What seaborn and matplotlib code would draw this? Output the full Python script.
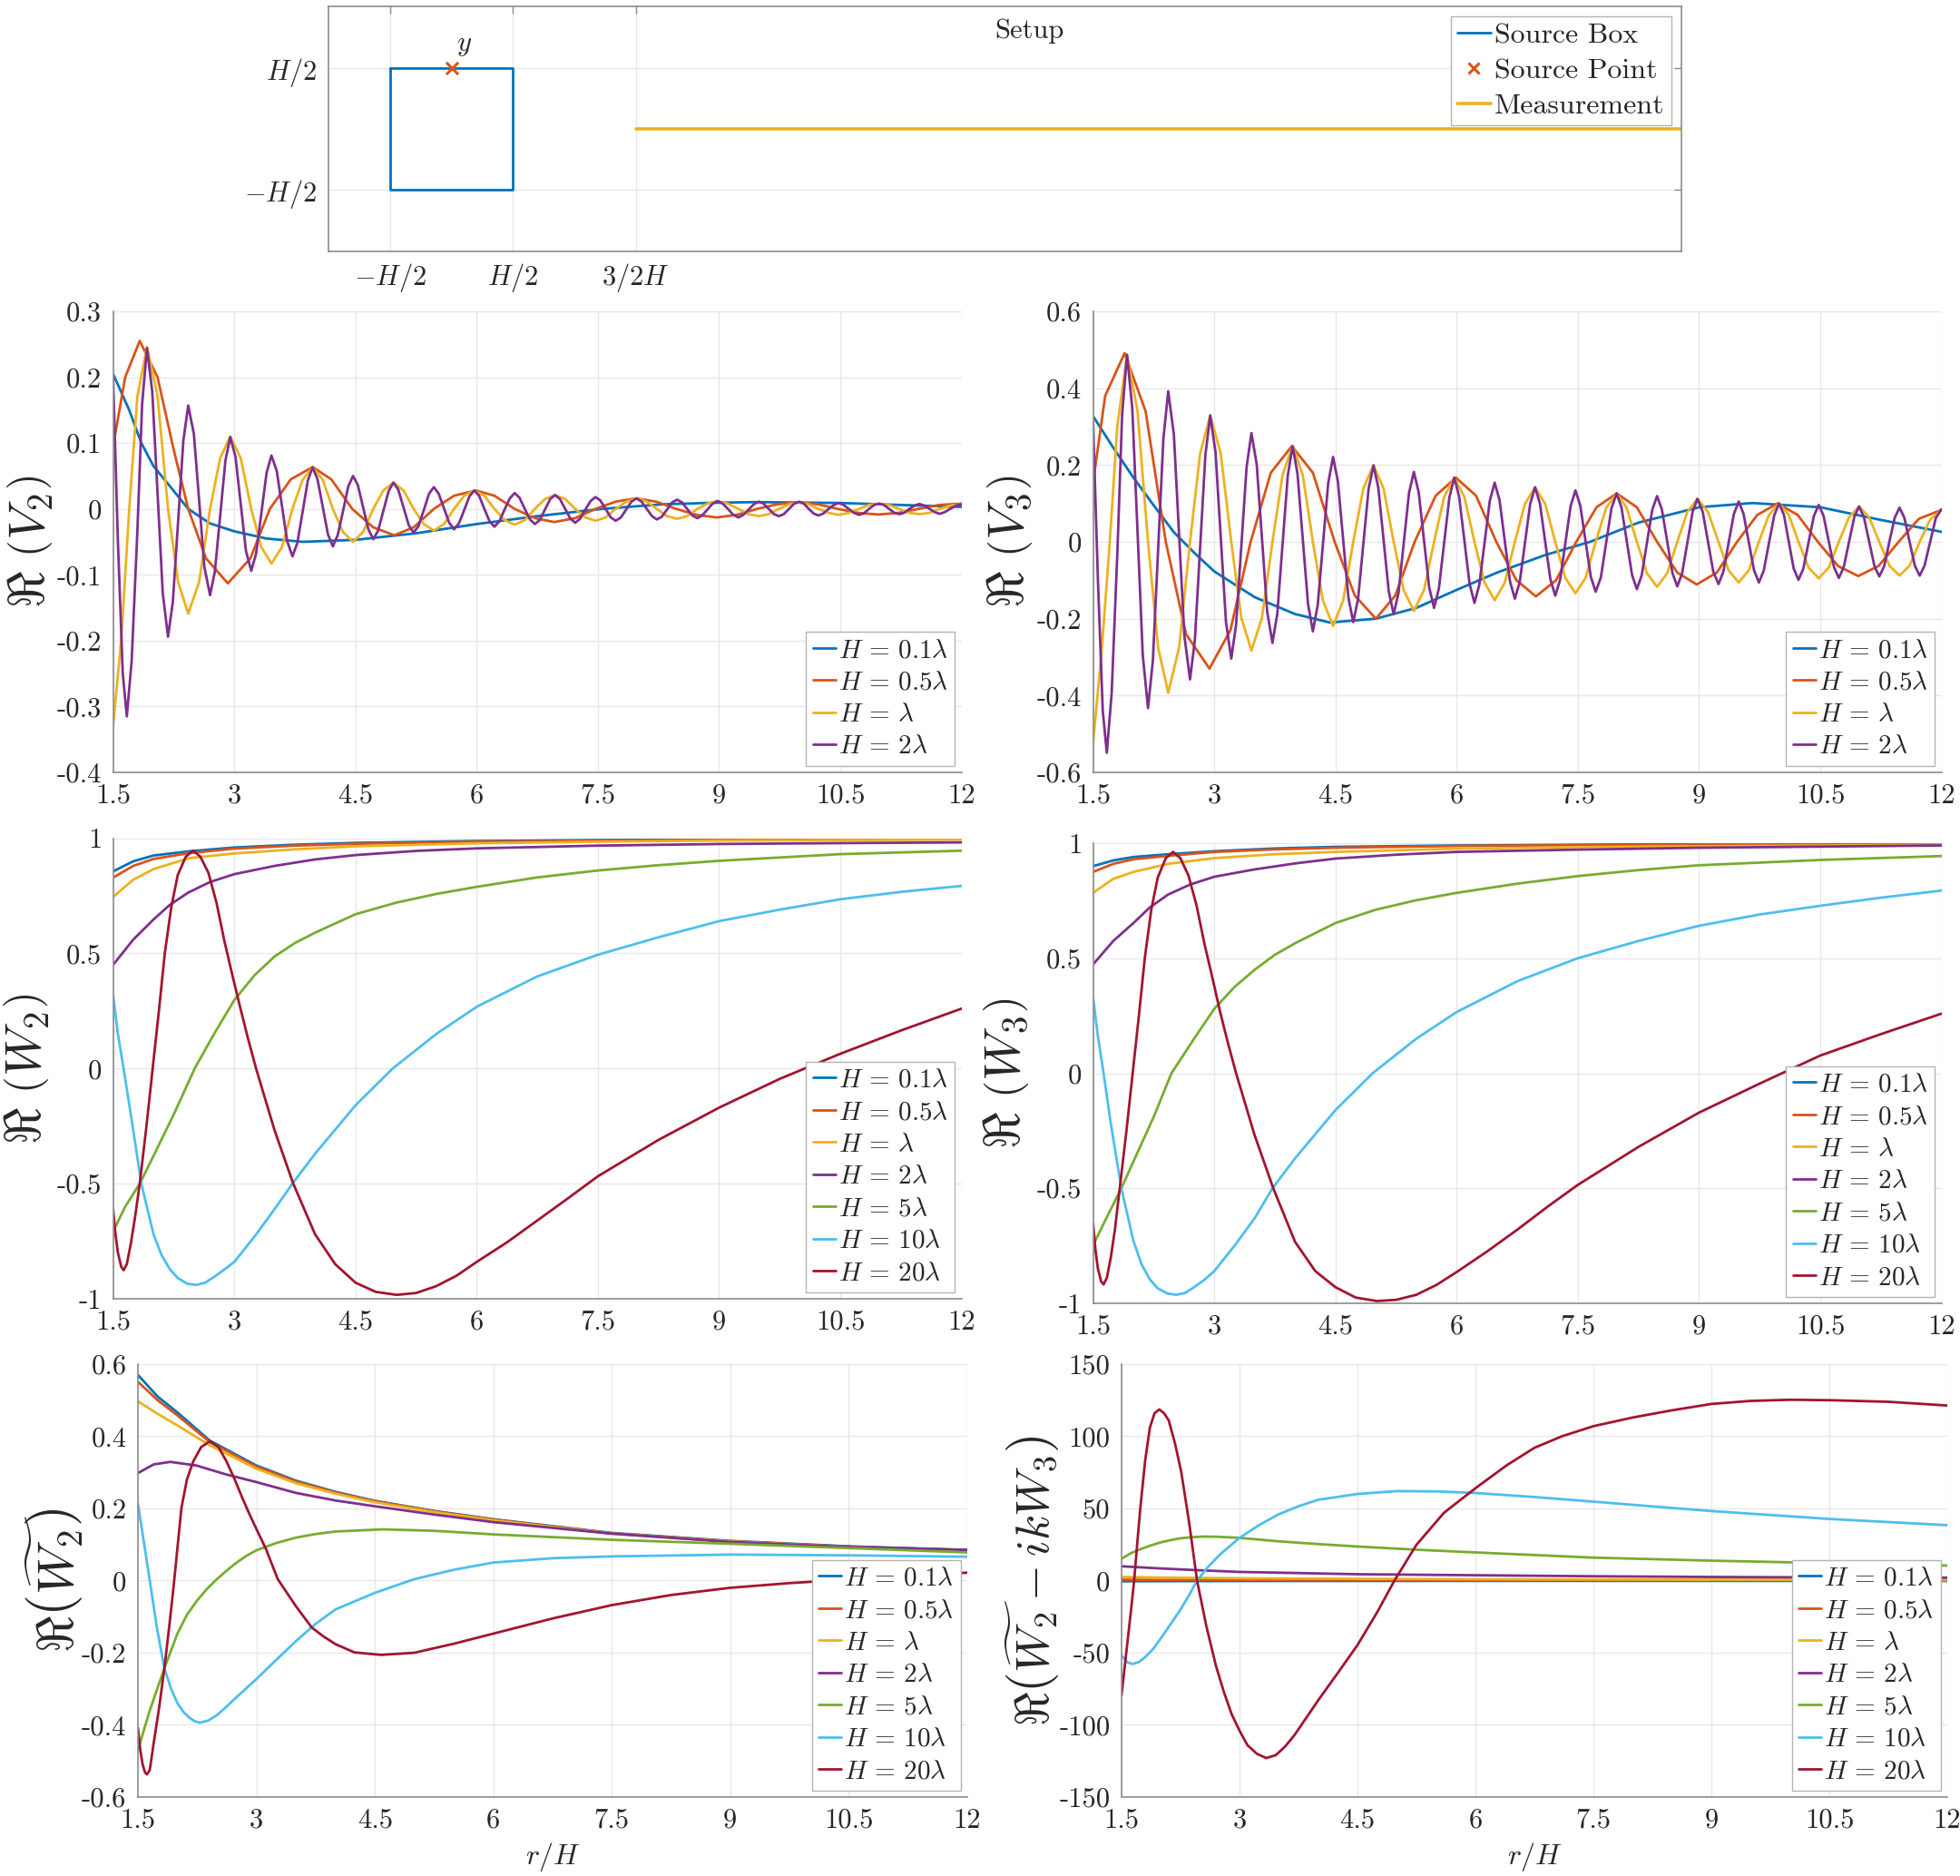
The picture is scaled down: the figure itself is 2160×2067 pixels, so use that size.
import matplotlib
matplotlib.use("Agg")
import matplotlib.pyplot as plt
from matplotlib.lines import Line2D
import seaborn as sns

# ---- colours / labels ----
COLORS = ["#0072BD", "#D95319", "#EDB120", "#7E2F8E", "#77AC30", "#4DBEEE", "#A2142F"]
H_LABELS = [r"$H\,=\,0.1\lambda$", r"$H\,=\,0.5\lambda$", r"$H\,=\,\lambda$", r"$H\,=\,2\lambda$",
            r"$H\,=\,5\lambda$", r"$H\,=\,10\lambda$", r"$H\,=\,20\lambda$"]
X_TICKS = [1.5, 3, 4.5, 6, 7.5, 9, 10.5, 12]
X_TICK_LABELS = ["1.5", "3", "4.5", "6", "7.5", "9", "10.5", "12"]

# ---- setup sketch (units of H) ----
BOX_X = [-0.5, 0.5, 0.5, -0.5, -0.5]
BOX_Y = [0.5, 0.5, -0.5, -0.5, 0.5]
SRC_X = [0.0]
SRC_Y = [0.5]
MEAS_X = [1.5, 10.0]
MEAS_Y = [0.0, 0.0]

# ---- Re(V2) ----
V2_R_01 = [1.5, 1.7, 1.85, 2.0, 2.2, 2.43, 2.7, 3.0, 3.4, 3.85, 4.5, 5.25, 6.0, 6.75, 7.55, 8.3, 9.0, 9.45, 10.5, 11.25, 12.0]
V2_01 = [0.205, 0.15, 0.1, 0.065, 0.035, 0.0, -0.022, -0.034, -0.045, -0.05, -0.047, -0.037, -0.023, -0.011, 0.0, 0.007, 0.0095, 0.0103, 0.009, 0.006, 0.003]
V2_R_05 = [1.5, 1.65, 1.83, 2.05, 2.25, 2.43, 2.65, 2.92, 3.2, 3.44, 3.7, 3.97, 4.2, 4.46, 4.72, 4.98, 5.22, 5.47, 5.72, 5.99, 6.22, 6.47,
           6.72, 6.96, 7.22, 7.47, 7.72, 7.97, 8.22, 8.47, 8.72, 8.97, 9.22, 9.47, 9.72, 9.97, 10.22, 10.47, 10.72, 10.97, 11.22, 11.47, 11.72, 12.0]
V2_05 = [0.095, 0.2, 0.255, 0.2, 0.09, 0.0, -0.075, -0.113, -0.075, 0.0, 0.045, 0.0635, 0.045, 0.0, -0.028, -0.04, -0.028, 0.0, 0.02, 0.028, 0.02, 0.0,
         -0.014, -0.02, -0.014, 0.0, 0.011, 0.016, 0.011, 0.0, -0.009, -0.013, -0.009, 0.0, 0.007, 0.01, 0.007, 0.0, -0.006, -0.0085, -0.006, 0.0, 0.006, 0.008]
V_R_1 = [1.5, 1.6, 1.7, 1.8,
         1.92, 2.05, 2.18, 2.305,
         2.43, 2.565, 2.70, 2.825,
         2.95, 3.08, 3.21, 3.335,
         3.46, 3.59, 3.72, 3.845,
         3.97, 4.095, 4.22, 4.345,
         4.47, 4.595, 4.72, 4.845,
         4.97, 5.095, 5.22, 5.345,
         5.47, 5.595, 5.72, 5.845,
         5.97, 6.095, 6.22, 6.345,
         6.47, 6.595, 6.72, 6.845,
         6.97, 7.095, 7.22, 7.345,
         7.47, 7.595, 7.72, 7.85,
         7.98, 8.105, 8.23, 8.355,
         8.48, 8.605, 8.73, 8.855,
         8.98, 9.11, 9.24, 9.365,
         9.49, 9.615, 9.74, 9.865,
         9.99, 10.11, 10.23, 10.355,
         10.48, 10.605, 10.73, 10.855,
         10.98, 11.105, 11.23, 11.355,
         11.48, 11.605, 11.73, 11.86,
         12.0]
V2_1 = [-0.33, -0.2, 0.0, 0.17,
        0.246, 0.172, 0.0, -0.111,
        -0.159, -0.111, 0.0, 0.077,
        0.11, 0.077, 0.0, -0.058,
        -0.083, -0.058, 0.0, 0.044,
        0.063, 0.044, 0.0, -0.035,
        -0.05, -0.035, 0.0, 0.028,
        0.04, 0.028, 0.0, -0.023,
        -0.033, -0.023, 0.0, 0.02,
        0.028, 0.02, 0.0, -0.017,
        -0.024, -0.017, 0.0, 0.015,
        0.021, 0.015, 0.0, -0.013,
        -0.018, -0.013, 0.0, 0.011,
        0.016, 0.011, 0.0, -0.011,
        -0.015, -0.011, 0.0, 0.008,
        0.012, 0.008, 0.0, -0.008,
        -0.011, -0.008, 0.0, 0.007,
        0.01, 0.007, 0.0, -0.006,
        -0.009, -0.006, 0.0, 0.006,
        0.008, 0.006, 0.0, -0.006,
        -0.008, -0.006, 0.0, 0.005,
        0.007]
V_R_2 = [1.5, 1.56, 1.62,
         1.67, 1.73, 1.80, 1.86,
         1.92, 1.985, 2.05, 2.115,
         2.18, 2.24, 2.305, 2.37,
         2.43, 2.50, 2.565, 2.63,
         2.70, 2.76, 2.825, 2.89,
         2.95, 3.015, 3.08, 3.145,
         3.21, 3.27, 3.335, 3.40,
         3.46, 3.525, 3.59, 3.655,
         3.72, 3.78, 3.845, 3.91,
         3.97, 4.03, 4.095, 4.16,
         4.22, 4.28, 4.345, 4.41,
         4.47, 4.53, 4.595, 4.66,
         4.72, 4.78, 4.845, 4.91,
         4.97, 5.03, 5.095, 5.16,
         5.22, 5.28, 5.345, 5.41,
         5.47, 5.53, 5.595, 5.66,
         5.72, 5.78, 5.845, 5.91,
         5.97, 6.03, 6.095, 6.16,
         6.22, 6.28, 6.345, 6.41,
         6.47, 6.53, 6.595, 6.66,
         6.72, 6.78, 6.845, 6.91,
         6.97, 7.03, 7.095, 7.16,
         7.22, 7.28, 7.345, 7.41,
         7.47, 7.53, 7.595, 7.66,
         7.72, 7.785, 7.85, 7.915,
         7.98, 8.04, 8.105, 8.17,
         8.23, 8.29, 8.355, 8.42,
         8.48, 8.54, 8.605, 8.67,
         8.73, 8.79, 8.855, 8.92,
         8.98, 9.045, 9.11, 9.175,
         9.24, 9.30, 9.365, 9.43,
         9.49, 9.55, 9.615, 9.68,
         9.74, 9.80, 9.865, 9.93,
         9.99, 10.05, 10.11, 10.17,
         10.23, 10.29, 10.355, 10.42,
         10.48, 10.54, 10.605, 10.67,
         10.73, 10.79, 10.855, 10.92,
         10.98, 11.04, 11.105, 11.17,
         11.23, 11.29, 11.355, 11.42,
         11.48, 11.54, 11.605, 11.67,
         11.73, 11.79, 11.86, 11.93,
         12.0]
V2_2 = [0.2, -0.05, -0.25,
        -0.315, -0.231, -0.036, 0.160,
        0.244, 0.178, 0.025, -0.128,
        -0.194, -0.141, -0.019, 0.104,
        0.157, 0.114, 0.013, -0.088,
        -0.131, -0.095, -0.011, 0.073,
        0.109, 0.079, 0.008, -0.064,
        -0.094, -0.068, -0.007, 0.055,
        0.081, 0.058, 0.005, -0.049,
        -0.072, -0.052, -0.005, 0.043,
        0.063, 0.045, 0.003, -0.039,
        -0.057, -0.040, -0.004, 0.034,
        0.05, 0.036, 0.002, -0.031,
        -0.046, -0.033, -0.003, 0.027,
        0.04, 0.029, 0.002, -0.025,
        -0.036, -0.026, -0.002, 0.023,
        0.033, 0.023, 0.001, -0.021,
        -0.031, -0.022, -0.002, 0.019,
        0.028, 0.020, 0.0, -0.019,
        -0.027, -0.019, -0.001, 0.016,
        0.024, 0.017, 0.0, -0.016,
        -0.023, -0.017, -0.001, 0.015,
        0.021, 0.015, 0.0, -0.015,
        -0.021, -0.015, -0.001, 0.012,
        0.018, 0.013, 0.0, -0.013,
        -0.018, -0.013, -0.001, 0.011,
        0.016, 0.011, 0.0, -0.011,
        -0.016, -0.012, -0.001, 0.010,
        0.014, 0.010, 0.0, -0.010,
        -0.014, -0.010, -0.001, 0.008,
        0.012, 0.008, 0.0, -0.009,
        -0.013, -0.009, -0.001, 0.007,
        0.011, 0.008, 0.0, -0.008,
        -0.011, -0.008, 0.0, 0.008,
        0.011, 0.008, 0.0, -0.007,
        -0.01, -0.007, 0.0, 0.006,
        0.009, 0.006, 0.0, -0.006,
        -0.009, -0.007, 0.0, 0.006,
        0.008, 0.006, 0.0, -0.006,
        -0.008, -0.006, 0.0, 0.005,
        0.0075, 0.005, 0.0, -0.005,
        -0.0075, -0.005, 0.0, 0.005,
        0.007]

# ---- Re(V3) ----
V3_R_01 = [1.5, 1.75, 2.0, 2.25, 2.5, 2.75, 3.0, 3.5, 4.0, 4.43, 5.0, 5.5, 6.0, 6.5, 7.1, 7.65, 8.25, 9.0, 9.66, 10.5, 11.25, 12.0]
V3_01 = [0.327, 0.245, 0.167, 0.095, 0.025, -0.028, -0.077, -0.144, -0.188, -0.21, -0.2, -0.172, -0.125, -0.08, -0.034, 0.0, 0.05, 0.09, 0.101, 0.09, 0.057, 0.026]
V3_R_05 = [1.5, 1.65, 1.89, 2.15, 2.4, 2.65, 2.94, 3.2, 3.45, 3.7, 3.96, 4.22, 4.49, 4.74, 5.0, 5.24, 5.48, 5.74, 5.99, 6.24, 6.49, 6.74,
           6.98, 7.23, 7.48, 7.73, 7.98, 8.23, 8.48, 8.73, 8.97, 9.22, 9.47, 9.72, 9.97, 10.22, 10.47, 10.72, 10.97, 11.22, 11.47, 11.72, 12.0]
V3_05 = [0.155, 0.38, 0.491, 0.34, 0.0, -0.24, -0.33, -0.23, 0.0, 0.18, 0.249, 0.18, 0.0, -0.14, -0.2, -0.14, 0.0, 0.12, 0.167, 0.12, 0.0, -0.1,
         -0.142, -0.1, 0.0, 0.09, 0.126, 0.09, 0.0, -0.08, -0.111, -0.08, 0.0, 0.07, 0.1, 0.07, 0.0, -0.063, -0.089, -0.063, 0.0, 0.06, 0.083]
V3_1 = [-0.523, -0.3, -0.02, 0.3,
        0.487, 0.341, 0.0, -0.275,
        -0.393, -0.275, 0.0, 0.23,
        0.329, 0.23, 0.0, -0.198,
        -0.283, -0.198, 0.0, 0.174,
        0.249, 0.174, 0.0, -0.153,
        -0.219, -0.153, 0.0, 0.139,
        0.199, 0.139, 0.0, -0.126,
        -0.18, -0.126, 0.0, 0.117,
        0.167, 0.117, 0.0, -0.106,
        -0.152, -0.106, 0.0, 0.099,
        0.142, 0.099, 0.0, -0.094,
        -0.134, -0.094, 0.0, 0.088,
        0.126, 0.088, 0.0, -0.082,
        -0.117, -0.082, 0.0, 0.078,
        0.112, 0.078, 0.0, -0.074,
        -0.106, -0.074, 0.0, 0.07,
        0.1, 0.07, 0.0, -0.067,
        -0.095, -0.067, 0.0, 0.064,
        0.092, 0.064, 0.0, -0.062,
        -0.088, -0.062, 0.0, 0.058,
        0.083]
V3_2 = [0.313, -0.1, -0.44,
        -0.549, -0.394, -0.031, 0.332,
        0.487, 0.349, 0.027, -0.295,
        -0.433, -0.309, -0.02, 0.268,
        0.392, 0.279, 0.017, -0.245,
        -0.358, -0.255, -0.015, 0.226,
        0.329, 0.234, 0.012, -0.209,
        -0.304, -0.216, -0.01, 0.195,
        0.283, 0.202, 0.01, -0.182,
        -0.263, -0.187, -0.007, 0.173,
        0.249, 0.177, 0.008, -0.161,
        -0.233, -0.165, -0.006, 0.153,
        0.221, 0.157, 0.006, -0.145,
        -0.209, -0.148, -0.005, 0.138,
        0.199, 0.141, 0.005, -0.130,
        -0.188, -0.133, -0.003, 0.127,
        0.182, 0.129, 0.005, -0.119,
        -0.172, -0.121, -0.003, 0.116,
        0.167, 0.118, 0.004, -0.110,
        -0.159, -0.112, -0.003, 0.107,
        0.154, 0.109, 0.003, -0.103,
        -0.148, -0.105, -0.003, 0.099,
        0.142, 0.100, 0.001, -0.098,
        -0.14, -0.099, -0.003, 0.093,
        0.134, 0.094, 0.002, -0.091,
        -0.13, -0.092, -0.002, 0.087,
        0.126, 0.089, 0.002, -0.086,
        -0.123, -0.087, -0.002, 0.083,
        0.119, 0.084, 0.002, -0.081,
        -0.116, -0.082, -0.002, 0.078,
        0.112, 0.078, 0.001, -0.077,
        -0.11, -0.078, -0.003, 0.072,
        0.105, 0.073, 0.0, -0.074,
        -0.106, -0.075, -0.003, 0.069,
        0.1, 0.070, 0.0, -0.069,
        -0.099, -0.070, -0.002, 0.067,
        0.096, 0.068, 0.001, -0.066,
        -0.094, -0.066, -0.001, 0.064,
        0.092, 0.064, 0.001, -0.063,
        -0.09, -0.064, 0.0, 0.062,
        0.089, 0.063, 0.0, -0.062,
        -0.088, -0.062, 0.0, 0.062,
        0.085]

# ---- Re(W2), Re(W3) ----
W_R_SMALL = [1.5, 1.75, 2.0, 2.43, 3.0, 3.75, 4.5, 6.0, 7.5, 9.0, 10.5, 12.0]
W2_01 = [0.856, 0.9, 0.925, 0.943, 0.96, 0.972, 0.98, 0.988, 0.992, 0.995, 0.996, 0.997]
W2_05 = [0.829, 0.88, 0.91, 0.935, 0.955, 0.968, 0.976, 0.985, 0.99, 0.993, 0.995, 0.996]
W2_1 = [0.745, 0.82, 0.866, 0.913, 0.934, 0.952, 0.965, 0.978, 0.985, 0.99, 0.992, 0.994]
W3_01 = [0.9, 0.925, 0.94, 0.952, 0.965, 0.977, 0.984, 0.99, 0.993, 0.996, 0.997, 0.998]
W3_05 = [0.875, 0.91, 0.93, 0.945, 0.962, 0.973, 0.98, 0.988, 0.991, 0.994, 0.996, 0.997]
W3_1 = [0.784, 0.845, 0.875, 0.91, 0.935, 0.952, 0.962, 0.976, 0.983, 0.987, 0.99, 0.993]
W_R_2 = [1.5, 1.75, 2.0, 2.2, 2.43, 2.7, 3.0, 3.5, 4.0, 4.5, 5.25, 6.0, 7.5, 9.0, 10.5, 12.0]
W2_2 = [0.45, 0.56, 0.647, 0.71, 0.764, 0.81, 0.844, 0.88, 0.908, 0.927, 0.945, 0.956, 0.968, 0.975, 0.979, 0.982]
W3_2 = [0.473, 0.575, 0.653, 0.72, 0.777, 0.82, 0.854, 0.886, 0.912, 0.933, 0.95, 0.962, 0.972, 0.98, 0.985, 0.99]
W2_R_5 = [1.5, 1.65, 1.83, 2.0, 2.25, 2.51, 2.75, 3.0, 3.25, 3.5, 3.75, 4.0, 4.5, 5.0, 5.5, 6.0, 6.75, 7.5, 8.25, 9.0, 10.5, 12.0]
W2_5 = [-0.708, -0.6, -0.5, -0.38, -0.2, 0.0, 0.15, 0.297, 0.405, 0.487, 0.545, 0.59, 0.67, 0.72, 0.758, 0.789, 0.83, 0.86, 0.883, 0.902, 0.931, 0.946]
W3_R_5 = [1.5, 1.65, 1.85, 2.0, 2.25, 2.47, 2.75, 3.0, 3.25, 3.5, 3.75, 4.0, 4.5, 5.0, 5.5, 6.0, 6.75, 7.5, 8.25, 9.0, 10.5, 12.0]
W3_5 = [-0.748, -0.64, -0.5, -0.383, -0.19, 0.0, 0.15, 0.28, 0.375, 0.45, 0.515, 0.565, 0.653, 0.711, 0.752, 0.784, 0.824, 0.857, 0.883, 0.904, 0.927, 0.944]
W_R_10 = [1.5, 1.56, 1.63, 1.72, 1.85, 2.0, 2.1, 2.2, 2.3, 2.42, 2.53, 2.64, 2.75, 2.87, 3.0, 3.25, 3.5, 3.72, 4.0, 4.5, 4.96,
          5.5, 6.0, 6.75, 7.5, 8.25, 9.0, 9.75, 10.5, 11.25, 12.0]
W2_10 = [0.32, 0.15, 0.0, -0.2, -0.5, -0.72, -0.81, -0.87, -0.91, -0.935, -0.94, -0.93, -0.905, -0.875, -0.84, -0.73, -0.61, -0.5, -0.37, -0.16, 0.0,
         0.15, 0.268, 0.4, 0.494, 0.57, 0.64, 0.69, 0.735, 0.767, 0.793]
W3_10 = [0.332, 0.16, 0.0, -0.22, -0.5, -0.73, -0.83, -0.895, -0.935, -0.957, -0.963, -0.955, -0.93, -0.9, -0.86, -0.75, -0.63, -0.5, -0.37, -0.16, 0.0,
         0.15, 0.266, 0.4, 0.5, 0.575, 0.641, 0.69, 0.728, 0.763, 0.794]
W_R_20 = [1.5, 1.53, 1.56, 1.6, 1.63, 1.67, 1.72, 1.77, 1.83, 1.91, 1.99, 2.07, 2.14, 2.22, 2.3, 2.4, 2.49, 2.58, 2.68, 2.78,
          2.88, 2.98, 3.07, 3.17, 3.27, 3.5, 3.73, 4.0, 4.25, 4.5, 4.75, 5.01, 5.25, 5.5, 5.75, 6.0, 6.375, 6.75, 7.125, 7.5,
          8.25, 9.0, 9.75, 10.5, 11.25, 12.0]
W2_20 = [-0.61, -0.72, -0.8, -0.86, -0.876, -0.85, -0.76, -0.65, -0.5, -0.26, 0.0, 0.26, 0.5, 0.7, 0.84, 0.92, 0.946, 0.92, 0.85, 0.72,
         0.55, 0.4, 0.27, 0.13, 0.0, -0.27, -0.5, -0.72, -0.85, -0.93, -0.97, -0.983, -0.975, -0.945, -0.9, -0.84, -0.755, -0.66, -0.565, -0.468,
         -0.31, -0.17, -0.045, 0.064, 0.165, 0.26]
W3_20 = [-0.65, -0.77, -0.85, -0.905, -0.918, -0.89, -0.8, -0.68, -0.5, -0.26, 0.0, 0.26, 0.5, 0.71, 0.85, 0.935, 0.962, 0.935, 0.86, 0.73,
         0.56, 0.41, 0.27, 0.13, 0.0, -0.27, -0.5, -0.733, -0.86, -0.93, -0.975, -0.99, -0.985, -0.963, -0.92, -0.864, -0.775, -0.68, -0.58, -0.485,
         -0.32, -0.171, -0.045, 0.077, 0.17, 0.259]

# ---- Re(tilde W2) ----
T_R_SMALL = [1.5, 1.75, 2.0, 2.41, 3.0, 3.5, 4.0, 4.5, 5.25, 6.0, 7.5, 9.0, 10.5, 12.0]
T_01 = [0.57, 0.51, 0.466, 0.388, 0.319, 0.277, 0.246, 0.221, 0.193, 0.17, 0.132, 0.11, 0.095, 0.085]
T_05 = [0.551, 0.5, 0.458, 0.384, 0.316, 0.275, 0.244, 0.22, 0.192, 0.169, 0.131, 0.109, 0.094, 0.084]
T_1 = [0.497, 0.462, 0.43, 0.375, 0.31, 0.27, 0.241, 0.217, 0.19, 0.167, 0.13, 0.108, 0.093, 0.083]
T_R_2 = [1.5, 1.7, 1.91, 2.24, 2.62, 3.0, 3.5, 4.0, 4.5, 5.25, 6.0, 7.5, 9.0, 10.5, 12.0]
T_2 = [0.298, 0.322, 0.329, 0.319, 0.294, 0.273, 0.243, 0.222, 0.206, 0.183, 0.162, 0.13, 0.107, 0.093, 0.085]
T_R_5 = [1.5, 1.65, 1.835, 2.0, 2.12, 2.25, 2.37, 2.48, 2.62, 2.75, 2.87, 3.0, 3.25, 3.5, 3.75, 4.0, 4.6, 5.25, 6.0, 7.5, 9.0, 10.5, 12.0]
T_5 = [-0.47, -0.36, -0.243, -0.147, -0.095, -0.055, -0.024, 0.0, 0.027, 0.05, 0.068, 0.084, 0.104, 0.119, 0.129, 0.136, 0.142, 0.138, 0.128, 0.113, 0.102, 0.09, 0.078]
T_R_10 = [1.5, 1.58, 1.65, 1.74, 1.835, 1.92, 2.0, 2.08, 2.15, 2.22, 2.285, 2.39, 2.5, 2.62, 2.75, 3.0, 3.25, 3.5, 3.75, 4.0,
          4.5, 5.0, 5.5, 6.0, 6.75, 7.5, 9.0, 10.5, 12.0]
T_10 = [0.214, 0.1, 0.0, -0.13, -0.243, -0.3, -0.34, -0.365, -0.38, -0.39, -0.394, -0.388, -0.373, -0.35, -0.323, -0.273, -0.22, -0.168, -0.12, -0.08,
        -0.034, 0.004, 0.03, 0.05, 0.062, 0.067, 0.072, 0.07, 0.066]
T_R_20 = [1.5, 1.53, 1.56, 1.59, 1.615, 1.65, 1.7, 1.77, 1.835, 1.9, 1.95, 2.0, 2.05, 2.12, 2.2, 2.3, 2.41, 2.52, 2.62, 2.72,
          2.82, 2.91, 3.0, 3.12, 3.27, 3.5, 3.7, 3.85, 4.0, 4.24, 4.58, 5.0, 5.5, 6.0, 6.75, 7.5, 8.25, 9.0, 9.75, 10.5,
          11.25, 12.0]
T_20 = [-0.409, -0.47, -0.51, -0.532, -0.537, -0.525, -0.45, -0.35, -0.243, -0.12, -0.02, 0.09, 0.2, 0.28, 0.33, 0.37, 0.386, 0.37, 0.331, 0.283,
        0.23, 0.185, 0.143, 0.088, 0.004, -0.071, -0.13, -0.155, -0.176, -0.199, -0.206, -0.2, -0.175, -0.147, -0.105, -0.068, -0.04, -0.02, -0.007, 0.003,
        0.013, 0.022]

# ---- Re(tilde W2 - ik W3) ----
D_R_SMALL = [1.5, 2.0, 3.0, 4.5, 6.0, 9.0, 12.0]
D_01 = [-0.5, -0.4, -0.3, -0.25, -0.2, -0.2, -0.2]
D_05 = [0.6, 0.5, 0.4, 0.35, 0.3, 0.25, 0.2]
D_1 = [2.5, 2.1, 1.6, 1.2, 0.9, 0.6, 0.5]
D_R_2 = [1.5, 2.0, 2.43, 3.0, 4.5, 6.0, 7.5, 9.0, 10.5, 12.0]
D_2 = [9.9, 8.4, 7.3, 6.0, 4.4, 3.7, 3.0, 2.5, 2.2, 2.0]
D_R_5 = [1.5, 1.62, 1.75, 1.88, 2.0, 2.12, 2.25, 2.4, 2.55, 2.75, 3.0, 3.5, 4.0, 4.5, 5.25, 6.0, 7.5, 9.0, 10.5, 12.0]
D_5 = [15.2, 19.0, 22.0, 24.5, 26.5, 28.0, 29.3, 30.1, 30.5, 30.3, 29.6, 27.2, 25.3, 23.6, 21.4, 19.5, 15.9, 13.8, 12.1, 10.4]
D_R_10 = [1.5, 1.57, 1.64, 1.72, 1.8, 1.9, 2.0, 2.12, 2.25, 2.36, 2.46, 2.6, 2.75, 3.0, 3.25, 3.5, 3.75, 4.0, 4.5, 5.0,
          5.5, 6.0, 6.75, 7.5, 8.25, 9.0, 10.5, 12.0]
D_10 = [-51.8, -56.5, -57.8, -56.5, -53.0, -47.5, -40.0, -30.5, -20.0, -10.0, 0.0, 9.5, 18.0, 29.6, 38.5, 46.0, 51.5, 56.0, 60.0, 62.0,
        61.8, 60.7, 57.9, 54.7, 51.4, 48.2, 42.7, 38.4]
D_R_20 = [1.5, 1.56, 1.62, 1.66, 1.7, 1.74, 1.8, 1.86, 1.92, 1.98, 2.04, 2.1, 2.18, 2.26, 2.36, 2.46, 2.58, 2.7, 2.8, 2.9,
          3.0, 3.1, 3.22, 3.34, 3.46, 3.58, 3.7, 3.85, 4.0, 4.25, 4.5, 4.75, 4.97, 5.25, 5.6, 6.0, 6.4, 6.75, 7.1, 7.5,
          8.0, 8.5, 9.0, 9.5, 10.0, 10.5, 11.25, 12.0]
D_20 = [-79.4, -50.0, -20.8, 0.0, 26.0, 51.0, 83.0, 106.0, 116.0, 118.6, 116.0, 111.0, 95.0, 75.0, 40.0, 0.0, -32.0, -59.0, -77.0, -92.6,
        -104.0, -114.0, -120.0, -123.0, -121.0, -115.0, -107.0, -95.0, -83.0, -64.0, -44.7, -22.0, 0.0, 24.8, 47.0, 64.0, 80.0, 92.0, 100.0, 107.0,
        113.0, 118.0, 122.4, 124.5, 125.3, 125.0, 123.9, 121.3]

# ---- style ----
sns.set_theme(style="white")
plt.rcParams["font.family"] = ["cmr10", "DejaVu Serif"]
plt.rcParams["mathtext.fontset"] = "cm"
plt.rcParams["axes.unicode_minus"] = False
plt.rcParams["axes.formatter.use_mathtext"] = True

TXT = "#262626"
SPINE = "#8c8c8c"
GRID = "#e8e8e8"

fig = plt.figure(figsize=(21.6, 20.67), dpi=100)


def style_panel(ax, ylim, yticks, ylabels, ylabel, label_x, label_size=40, xlabel=False):
    ax.set_xlim(1.5, 12)
    ax.set_ylim(*ylim)
    ax.set_xticks(X_TICKS)
    ax.set_xticklabels(X_TICK_LABELS)
    ax.set_yticks(yticks)
    ax.set_yticklabels(ylabels)
    ax.grid(True, color=GRID, lw=1.0)
    ax.set_axisbelow(True)
    for s in ["top", "right"]:
        ax.spines[s].set_visible(False)
    for s in ["left", "bottom"]:
        ax.spines[s].set_color(SPINE)
        ax.spines[s].set_linewidth(1.2)
    ax.tick_params(direction="in", length=6, width=1, color=SPINE, labelcolor=TXT, labelsize=22, pad=9)
    ax.set_ylabel(ylabel, fontsize=label_size, color=TXT)
    ax.yaxis.set_label_coords(label_x, 0.5)
    ax.set_xlabel(r"$r/H$" if xlabel else "", fontsize=23, color=TXT, labelpad=6)


def draw_series(ax, series):
    for i, (r, v) in enumerate(series):
        sns.lineplot(x=r, y=v, ax=ax, color=COLORS[i], lw=2.0, label=H_LABELS[i],
                     estimator=None, sort=False)
    handles, labels = ax.get_legend_handles_labels()
    leg = ax.legend(handles, labels, loc="lower right", fontsize=21, handlelength=0.85,
                    handletextpad=0.12, labelspacing=0.31, borderpad=0.25, borderaxespad=0.25,
                    frameon=True, fancybox=False, framealpha=1, edgecolor="#b4b4b4")
    leg.get_frame().set_linewidth(1.0)
    for t in leg.get_texts():
        t.set_color(TXT)


# ---- setup panel ----
ax0 = fig.add_axes([0.1676, 0.8660, 0.6903, 0.1306])
sns.lineplot(x=BOX_X, y=BOX_Y, ax=ax0, color=COLORS[0], lw=2.0, sort=False, estimator=None)
sns.lineplot(x=MEAS_X, y=MEAS_Y, ax=ax0, color=COLORS[2], lw=2.6, sort=False, estimator=None)
sns.scatterplot(x=SRC_X, y=SRC_Y, ax=ax0, color=COLORS[1], marker="x", s=90, linewidth=2.2, zorder=5)
ax0.set_xlim(-1, 10)
ax0.set_ylim(-1, 1)
ax0.set_xticks([-0.5, 0.5, 1.5])
ax0.set_xticklabels([r"$-H/2$", r"$H/2$", r"$3/2H$"])
ax0.set_yticks([-0.5, 0.5])
ax0.set_yticklabels([r"$-H/2$", r"$H/2$"])
ax0.grid(True, color=GRID, lw=1.0)
ax0.set_axisbelow(True)
for s in ax0.spines.values():
    s.set_color(SPINE)
    s.set_linewidth(1.2)
ax0.tick_params(direction="in", length=6, width=1, color=SPINE, labelcolor=TXT, labelsize=22,
                top=True, right=True)
ax0.tick_params(axis="x", pad=8)
ax0.tick_params(axis="y", pad=9)
ax0.set_xlabel("")
ax0.set_ylabel("")
ax0.text(0.518, 0.9, "Setup", transform=ax0.transAxes, ha="center", va="center", fontsize=22, color=TXT)
ax0.text(0.1, 0.68, r"$y$", ha="center", va="center", fontsize=22, color=TXT)
setup_handles = [Line2D([], [], color=COLORS[0], lw=2.0),
                 Line2D([], [], color=COLORS[1], lw=0, marker="x", markersize=9, markeredgewidth=2.2),
                 Line2D([], [], color=COLORS[2], lw=2.6)]
leg0 = ax0.legend(setup_handles, ["Source Box", "Source Point", "Measurement"], loc="upper right",
                  fontsize=23, handlelength=1.15, handletextpad=0.15, labelspacing=0.33, borderpad=0.22,
                  borderaxespad=0.35, frameon=True, fancybox=False, framealpha=1, edgecolor="#b4b4b4")
leg0.get_frame().set_linewidth(1.0)

# ---- V2 / V3 ----
ax1 = fig.add_axes([0.05769, 0.58829, 0.43287, 0.24577])
draw_series(ax1, [(V2_R_01, V2_01), (V2_R_05, V2_05), (V_R_1, V2_1), (V_R_2, V2_2)])
style_panel(ax1, (-0.4, 0.3), [-0.4, -0.3, -0.2, -0.1, 0, 0.1, 0.2, 0.3],
            ["-0.4", "-0.3", "-0.2", "-0.1", "0", "0.1", "0.2", "0.3"], r"$\Re\ \left(V_2\right)$", -0.068)

ax2 = fig.add_axes([0.55769, 0.58829, 0.43287, 0.24577])
draw_series(ax2, [(V3_R_01, V3_01), (V3_R_05, V3_05), (V_R_1, V3_1), (V_R_2, V3_2)])
style_panel(ax2, (-0.6, 0.6), [-0.6, -0.4, -0.2, 0, 0.2, 0.4, 0.6],
            ["-0.6", "-0.4", "-0.2", "0", "0.2", "0.4", "0.6"], r"$\Re\ \left(V_3\right)$", -0.068)

# ---- W2 / W3 ----
W_TICKS = [-1, -0.5, 0, 0.5, 1]
W_LABELS = ["-1", "-0.5", "0", "0.5", "1"]
ax3 = fig.add_axes([0.05769, 0.30769, 0.43287, 0.24548])
draw_series(ax3, [(W_R_SMALL, W2_01), (W_R_SMALL, W2_05), (W_R_SMALL, W2_1), (W_R_2, W2_2),
                  (W2_R_5, W2_5), (W_R_10, W2_10), (W_R_20, W2_20)])
style_panel(ax3, (-1, 1), W_TICKS, W_LABELS, r"$\Re\ \left(W_2\right)$", -0.072)

ax4 = fig.add_axes([0.55769, 0.30527, 0.43287, 0.24528])
draw_series(ax4, [(W_R_SMALL, W3_01), (W_R_SMALL, W3_05), (W_R_SMALL, W3_1), (W_R_2, W3_2),
                  (W3_R_5, W3_5), (W_R_10, W3_10), (W_R_20, W3_20)])
style_panel(ax4, (-1, 1), W_TICKS, W_LABELS, r"$\Re\ \left(W_3\right)$", -0.072)

# ---- bottom row ----
ax5 = fig.add_axes([0.07037, 0.04209, 0.42315, 0.23077])
draw_series(ax5, [(T_R_SMALL, T_01), (T_R_SMALL, T_05), (T_R_SMALL, T_1), (T_R_2, T_2),
                  (T_R_5, T_5), (T_R_10, T_10), (T_R_20, T_20)])
style_panel(ax5, (-0.6, 0.6), [-0.6, -0.4, -0.2, 0, 0.2, 0.4, 0.6],
            ["-0.6", "-0.4", "-0.2", "0", "0.2", "0.4", "0.6"],
            r"$\Re\left(\widetilde{W_2}\right)$", -0.065, xlabel=True)

ax6 = fig.add_axes([0.57222, 0.04209, 0.42130, 0.23077])
draw_series(ax6, [(D_R_SMALL, D_01), (D_R_SMALL, D_05), (D_R_SMALL, D_1), (D_R_2, D_2),
                  (D_R_5, D_5), (D_R_10, D_10), (D_R_20, D_20)])
style_panel(ax6, (-150, 150), [-150, -100, -50, 0, 50, 100, 150],
            ["-150", "-100", "-50", "0", "50", "100", "150"],
            r"$\Re\left(\widetilde{W_2} - ikW_3\right)$", -0.073, label_size=37, xlabel=True)

fig.savefig("out.png", dpi=100)
